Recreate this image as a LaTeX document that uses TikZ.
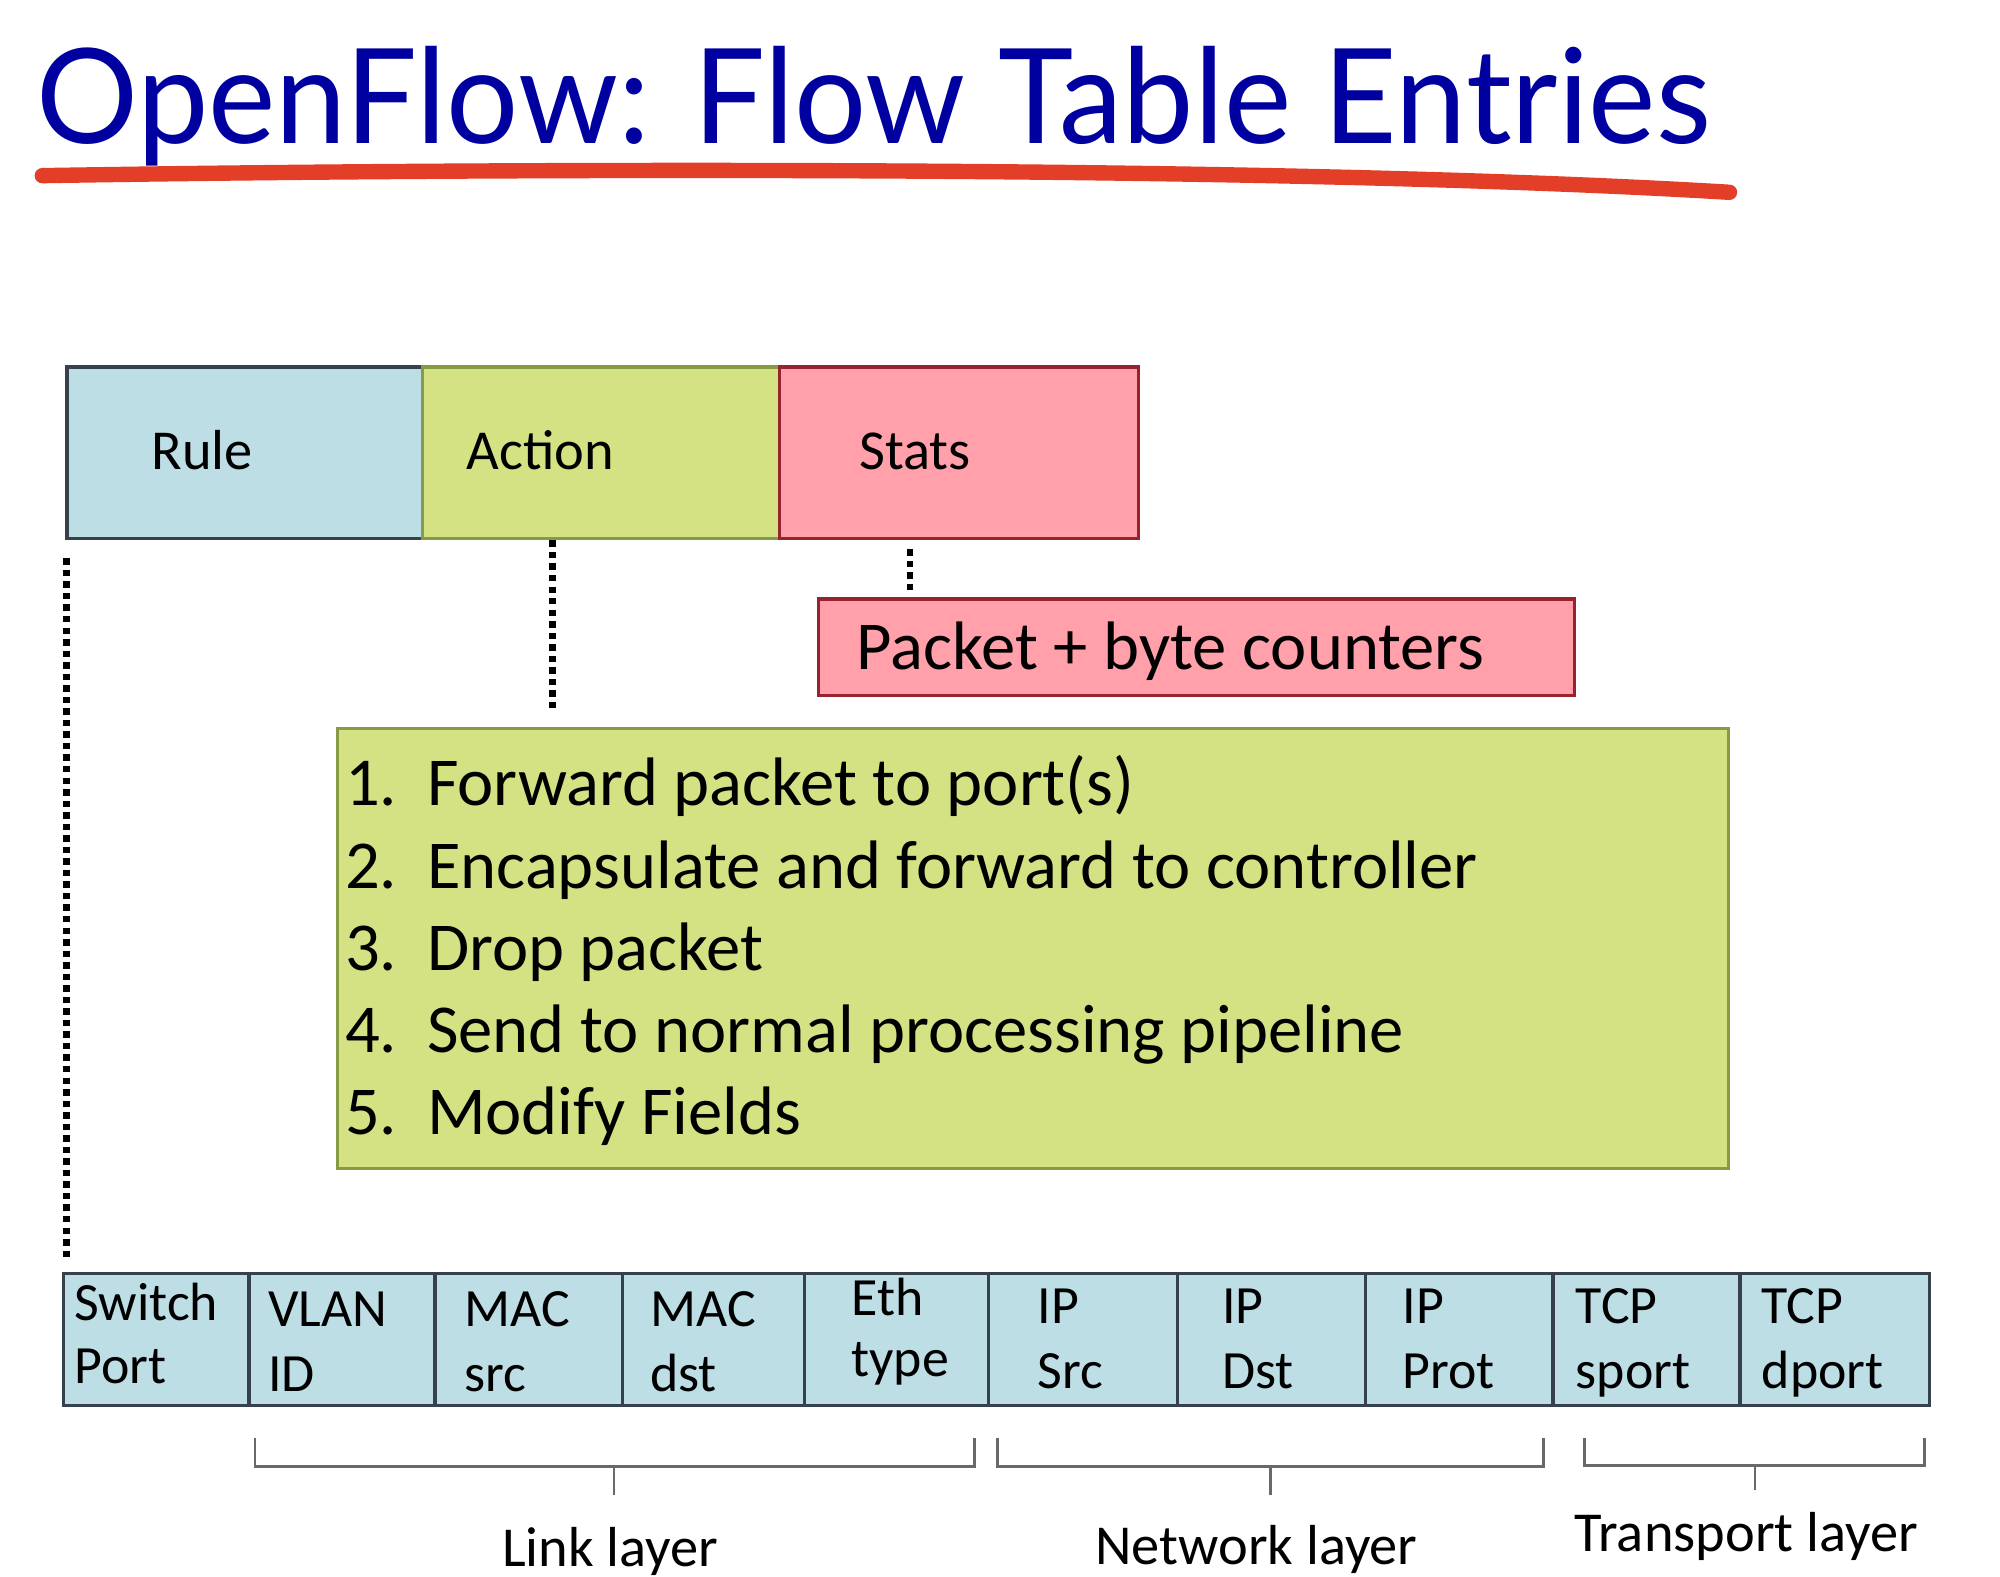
\documentclass[tikz,border=0pt]{standalone}
\usepackage{fontspec}
\setmainfont{Carlito}
\newfontfamily\titlefont{Lato}
\definecolor{ruleblue}{RGB}{190,222,230}
\definecolor{actgreen}{RGB}{212,226,132}
\definecolor{statpink}{RGB}{255,160,170}
\definecolor{titleblue}{RGB}{0,0,160}
\definecolor{brush}{RGB}{226,62,40}
\definecolor{bordergray}{RGB}{55,65,75}
\definecolor{borderolive}{RGB}{135,155,70}
\definecolor{borderred}{RGB}{150,35,45}
\definecolor{brackgray}{RGB}{105,105,105}
\begin{document}
\begin{tikzpicture}[x=1pt,y=-1pt,
  box/.style={draw, line width=2.5pt, inner sep=0pt, anchor=north west},
  field/.style={box, fill=ruleblue, draw=bordergray, minimum height=103pt},
  txt/.style={anchor=base west, inner sep=0pt},
  ftext/.style={txt, font=\fontsize{42}{50}\selectfont},
  hdtext/.style={txt, font=\fontsize{44}{50}\selectfont},
  listtext/.style={txt, font=\fontsize{53.5}{60}\selectfont},
  laytext/.style={anchor=base, inner sep=0pt, font=\fontsize{44}{50}\selectfont},
  dotline/.style={line width=5pt, dash pattern=on 5pt off 4pt},
  brack/.style={draw=brackgray, line width=2pt}]
\useasboundingbox (0,0) rectangle (1560,1230);
\fill[white] (0,0) rectangle (1560,1230);

% title
\node[anchor=base west, inner sep=0pt, text=titleblue, font=\titlefont\fontsize{103}{110}\selectfont] (title) at (28,112) {\scalebox{0.965}[1]{OpenFlow: Flow Table Entries}};
\draw[brush, line width=12pt, line cap=round] (33,137) .. controls (400,131) and (1000,129) .. (1349,150);

% top boxes
\node[box, fill=ruleblue, draw=bordergray, minimum width=277pt, minimum height=134pt] (rule) at (51,285) {};
\node[box, fill=actgreen, draw=borderolive, minimum width=279pt, minimum height=134pt] (action) at (328,285) {};
\node[box, fill=statpink, draw=borderred, minimum width=280pt, minimum height=134pt] (stats) at (607,285) {};
\node[hdtext] (ruletxt) at (118,366) {Rule};
\node[hdtext] (acttxt) at (364,366) {Action};
\node[hdtext] (stattxt) at (670,366) {Stats};

% packet counters
\node[box, fill=statpink, draw=borderred, minimum width=590pt, minimum height=75pt] (pkt) at (637,466) {};
\node[txt, font=\fontsize{53.5}{60}\selectfont] (pkttxt) at (668,522) {Packet + byte counters};

% action list
\node[box, fill=actgreen, draw=borderolive, minimum width=1085pt, minimum height=343pt] (list) at (262,567) {};
\foreach \i/\y/\t in {1/628/Forward packet to port(s), 2/693/Encapsulate and forward to controller, 3/757/Drop packet, 4/821/Send to normal processing pipeline, 5/885/Modify Fields}{
  \node[listtext] (num\i) at (269,\y) {\i.};
  \node[listtext] (item\i) at (333,\y) {\t};
}

% field boxes
\foreach \i/\l/\w in {1/48/145, 2/193/145, 3/338/146, 4/484/142, 5/626/144, 6/770/147, 7/917/147, 8/1064/146, 9/1210/146, 10/1356/148}{
  \node[field, minimum width=\w pt] (f\i) at (\l,992) {};
}
\foreach \i/\x/\ya/\yb/\ta/\tb in {1/58/1030/1079/Switch/Port, 2/209/1035/1085/VLAN/ID, 3/362/1035/1085/MAC/src, 4/507/1035/1085/MAC/dst, 5/664/1026/1074/Eth/type, 6/809/1032/1083/IP/Src, 7/953/1032/1083/IP/Dst, 8/1094/1032/1083/IP/Prot, 9/1229/1032/1083/TCP/sport, 10/1374/1032/1083/TCP/dport}{
  \node[ftext] (fa\i) at (\x,\ya) {\ta};
  \node[ftext] (fb\i) at (\x,\yb) {\tb};
}

% dotted connectors
\draw[dotline] ([shift={(1,14)}]rule.south west) -- ([shift={(4,-11)}]f1.north west);
\draw[dotline] (action.south west -| 431,0) -- ([shift={(0,-11)}]list.north west -| 431,0);
\draw[dotline] ([shift={(0,7)}]stats.south west -| 710,0) -- ([shift={(0,-5)}]pkt.north west -| 710,0);

% brackets
\coordinate (lkA) at (199,1122); \coordinate (lkB) at (760,1122); \coordinate (lkT) at (479,1144);
\coordinate (nwA) at (778,1122); \coordinate (nwB) at (1204,1122); \coordinate (nwT) at (991,1144);
\coordinate (tpA) at (1236,1122); \coordinate (tpB) at (1501,1122); \coordinate (tpT) at (1369,1143);
\draw[brack] (lkA) -- (lkA |- lkT) -- (lkB |- lkT) -- (lkB);
\draw[brack] (lkT) -- ++(0,22);
\draw[brack] (nwA) -- (nwA |- nwT) -- (nwB |- nwT) -- (nwB);
\draw[brack] (nwT) -- ++(0,22);
\draw[brack] (tpA) -- (tpA |- tpT) -- (tpB |- tpT) -- (tpB);
\draw[brack] (tpT) -- ++(0,19);
\node[laytext] (link) at (476,1222) {Link layer};
\node[laytext] (net) at (980,1220) {Network layer};
\node[laytext] (trans) at (1362,1210) {Transport layer};
\end{tikzpicture}
\end{document}
